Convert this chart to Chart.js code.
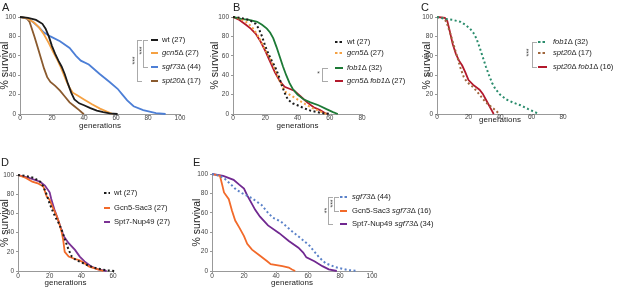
<!DOCTYPE html>
<html>
<head>
<meta charset="utf-8">
<script src="https://cdn.jsdelivr.net/npm/chart.js@4.4.1/dist/chart.umd.min.js"></script>
<style>
  body { margin: 0; background: #fff; }
  #fig { position: relative; width: 617px; height: 288px; overflow: hidden; font-family: "Liberation Sans", Arial, sans-serif; color: #222; }
  canvas { position: absolute; }
  .lbl { position: absolute; font-size: 7.6px; line-height: 10px; white-space: nowrap; }
  .letter { position: absolute; font-size: 11px; line-height: 11px; }
  .brk { position: absolute; border: 1px solid #aaa; border-right: none; box-sizing: border-box; }
  .star { position: absolute; font-size: 7px; line-height: 7px; transform: rotate(-90deg); color: #444; }
  svg { position: absolute; overflow: visible; }
</style>
</head>
<body>
<div id="fig"></div>
<script>
// survival curves: generations / % survival
var wtGen = [0, 5, 10, 14, 16, 18, 20, 22, 24, 26, 28, 30, 32, 34, 37, 40, 44, 48, 52, 56, 61];
var wtSurv = [100, 99, 97, 93, 88, 80, 70, 62, 55, 49, 41, 31, 22, 15, 11, 9, 6, 3.5, 2, 0.7, 0];

var gcn5Gen = [0, 5, 9, 12, 15, 18, 21, 23, 25, 27, 29, 31, 33, 36, 40, 45, 50, 55, 58];
var gcn5Surv = [100, 98, 94, 89, 82, 73, 63, 57, 50, 42, 34, 27, 22, 19, 15, 10, 5.5, 2, 0];

var sgf73Gen = [0, 5, 8, 12, 15, 19, 25, 31, 35, 38, 43, 50, 56, 61, 64, 67, 71, 77, 85, 91];
var sgf73Surv = [100, 98, 95, 89, 84, 80, 75, 68, 60, 55, 51, 41, 33, 26, 20, 14, 8, 4, 1, 0];

var spt20Gen = [0, 4, 6, 7, 9, 11, 13, 15, 17, 19, 22, 25, 28, 31, 34, 37, 39, 40];
var spt20Surv = [100, 99, 95, 90, 80, 69, 58, 47, 38, 33, 29, 24, 18, 12, 8, 4, 1, 0];

var fob1Gen = [0, 5, 10, 15, 18, 21, 23, 25, 27, 29, 31, 33, 35, 37, 40, 44, 48, 53, 58, 62, 65];
var fob1Surv = [100, 98, 97, 95, 92, 88, 84, 78, 69, 59, 49, 40, 32, 26, 20, 15, 12, 9, 5, 2, 0];

var gcn5fob1Gen = [0, 4, 8, 11, 14, 17, 20, 23, 26, 29, 32, 35, 38, 42, 46, 50, 54, 57, 59];
var gcn5fob1Surv = [100, 97, 92, 88, 83, 75, 65, 54, 43, 34, 28, 26, 24, 18, 12, 7, 4, 1, 0];

var spt20fob1Gen = [0, 5, 6.5, 8, 10, 12, 14, 16, 18, 20, 23, 27, 29, 31, 33, 35, 36];
var spt20fob1Surv = [100, 99, 96, 86, 72, 62, 55, 50, 43, 35, 30, 25, 21, 15, 9, 3, 0];

var sac3Gen = [0, 5, 9, 13, 16, 18, 20, 22, 24, 26, 27.5, 28.5, 29.5, 32, 36, 39, 42, 45, 49, 52, 54];
var sac3Surv = [100, 97, 93, 91, 88, 78, 74, 66, 59, 50, 41, 33, 20, 15, 12.5, 11, 8, 4.5, 2.5, 1, 0];

var nup49Gen = [0, 7, 14, 17, 20, 21, 23, 25, 27, 29, 32, 36, 39, 42, 46, 50, 53, 56];
var nup49Surv = [100, 97, 93, 89, 82, 75, 64, 55, 45, 36, 29, 22, 15, 10, 5, 2, 1, 0];

var sac3sgf73Gen = [0, 5, 6.5, 7.5, 10.5, 12.5, 14.5, 17, 20, 22, 25, 29, 34.5, 36.7, 44, 48, 50, 52];
var sac3sgf73Surv = [100, 98, 88, 81, 74, 62, 52, 45, 36, 28, 22, 17, 10, 7, 5, 3.5, 1.5, 0];

var nup49sgf73Gen = [0, 7, 13.5, 17, 20, 22, 24, 27, 30, 35, 42, 48, 54, 57, 59, 64, 69, 73, 78];
var nup49sgf73Surv = [100, 98, 94, 89, 85, 78, 72, 63, 56, 47, 39, 31, 24, 19, 14, 10, 5, 1.7, 0];

var survTicks = [0, 20, 40, 60, 80, 100];

var fig = document.getElementById('fig');

function line(gen, surv, color, dotted) {
  return {
    data: gen.map(function(g, i) { return {x: g, y: surv[i]}; }),
    borderColor: color,
    borderWidth: dotted ? 2 : 1.8,
    borderDash: dotted ? [2, 2.5] : [],
    pointRadius: 0,
    tension: 0,
    fill: false,
    clip: false
  };
}

// p: left, top, width, height of canvas, plot top, y-axis width, x-axis height
function panel(p, xMax, datasets) {
  var c = document.createElement('canvas');
  c.width = p.w; c.height = p.h;
  c.style.left = p.left + 'px'; c.style.top = p.top + 'px';
  c.style.width = p.w + 'px'; c.style.height = p.h + 'px';
  fig.appendChild(c);
  var tickFont = {family: '"Liberation Sans", Arial, sans-serif', size: 6.5};
  new Chart(c, {
    type: 'line',
    data: {datasets: datasets},
    options: {
      responsive: false,
      animation: false,
      devicePixelRatio: 1,
      layout: {padding: {top: p.padTop, right: 8, left: 0, bottom: 0}},
      plugins: {legend: {display: false}, tooltip: {enabled: false}},
      scales: {
        x: {
          type: 'linear', min: 0, max: xMax,
          ticks: {stepSize: 20, font: tickFont, color: '#444', padding: p.xPad, maxRotation: 0},
          grid: {drawOnChartArea: false, tickLength: 2, color: '#999'},
          border: {color: '#999'},
          title: {display: true, text: 'generations', color: '#222', padding: 0,
                  font: {family: '"Liberation Sans", Arial, sans-serif', size: 8, lineHeight: 1}},
          afterFit: function(s) { s.height = p.xH; }
        },
        y: {
          min: 0, max: 100,
          afterBuildTicks: function(s) { s.ticks = survTicks.map(function(v) { return {value: v}; }); },
          ticks: {font: tickFont, color: '#444', padding: 2},
          grid: {drawOnChartArea: false, tickLength: 2, color: '#999'},
          border: {color: '#999'},
          title: {display: true, text: '% survival', color: '#222', padding: 0,
                  font: {family: '"Liberation Sans", Arial, sans-serif', size: 10.5, lineHeight: 1}},
          afterFit: function(s) { s.width = p.yW; }
        }
      }
    }
  });
}

function legendRow(x1, x2, tx, y, color, dotted, html) {
  var s = document.createElementNS('http://www.w3.org/2000/svg', 'svg');
  s.setAttribute('width', x2 - x1); s.setAttribute('height', 4);
  s.style.left = x1 + 'px'; s.style.top = (y - 2) + 'px';
  var l = document.createElementNS('http://www.w3.org/2000/svg', 'line');
  l.setAttribute('x1', 0); l.setAttribute('x2', x2 - x1);
  l.setAttribute('y1', 2); l.setAttribute('y2', 2);
  l.setAttribute('stroke', color); l.setAttribute('stroke-width', 2);
  if (dotted) l.setAttribute('stroke-dasharray', '2.5 2');
  s.appendChild(l);
  fig.appendChild(s);
  var d = document.createElement('div');
  d.className = 'lbl';
  d.style.left = tx + 'px'; d.style.top = (y - 5) + 'px';
  d.innerHTML = html;
  fig.appendChild(d);
}

function bracket(x, y1, y2, w) {
  var b = document.createElement('div');
  b.className = 'brk';
  b.style.left = x + 'px'; b.style.top = y1 + 'px';
  b.style.width = w + 'px'; b.style.height = (y2 - y1 + 1) + 'px';
  fig.appendChild(b);
}

function stars(x, y, txt) {
  var d = document.createElement('div');
  d.className = 'star';
  d.textContent = txt;
  fig.appendChild(d);
  d.style.left = (x - d.offsetWidth / 2) + 'px';
  d.style.top = (y - d.offsetHeight / 2) + 'px';
}

function letter(x, y, t) {
  var d = document.createElement('div');
  d.className = 'letter';
  d.style.left = x + 'px'; d.style.top = y + 'px';
  d.textContent = t;
  fig.appendChild(d);
}

// A
panel({left: 0, top: 0, w: 188, h: 130, padTop: 17, yW: 20, xH: 16, xPad: -1.5}, 100, [
  line(wtGen, wtSurv, '#1b1b1b', false),
  line(gcn5Gen, gcn5Surv, '#f5a142', false),
  line(sgf73Gen, sgf73Surv, '#4d7fd6', false),
  line(spt20Gen, spt20Surv, '#8a5a2e', false)
]);
// B
panel({left: 210, top: 0, w: 160, h: 130, padTop: 17, yW: 23, xH: 16, xPad: -1.5}, 80, [
  line(wtGen, wtSurv, '#1b1b1b', true),
  line(gcn5Gen, gcn5Surv, '#f5a142', true),
  line(fob1Gen, fob1Surv, '#1d7a36', false),
  line(gcn5fob1Gen, gcn5fob1Surv, '#b3192c', false)
]);
// C
panel({left: 422, top: 0, w: 149, h: 124, padTop: 17, yW: 15, xH: 10, xPad: -2.5}, 80, [
  line(fob1Gen, fob1Surv, '#2a8c6c', true),
  line(spt20Gen, spt20Surv, '#a0663c', true),
  line(spt20fob1Gen, spt20fob1Surv, '#b3192c', false)
]);
// D
panel({left: 0, top: 140, w: 121, h: 147, padTop: 35, yW: 18, xH: 16, xPad: -1}, 60, [
  line(wtGen, wtSurv, '#1b1b1b', true),
  line(sac3Gen, sac3Surv, '#f26a2a', false),
  line(nup49Gen, nup49Surv, '#7b3294', false)
]);
// E
panel({left: 192, top: 140, w: 188, h: 147, padTop: 34, yW: 20, xH: 16, xPad: -1}, 100, [
  line(sgf73Gen, sgf73Surv, '#5b82c9', true),
  line(sac3sgf73Gen, sac3sgf73Surv, '#f26a2a', false),
  line(nup49sgf73Gen, nup49sgf73Surv, '#702890', false)
]);

letter(2, 2, 'A'); letter(233, 2, 'B'); letter(421, 2, 'C');
letter(1, 157, 'D'); letter(193, 157, 'E');

// legends
legendRow(151, 158, 162, 40, '#1b1b1b', false, 'wt (27)');
legendRow(151, 158, 162, 53, '#f5a142', false, '<i>gcn5</i>Δ (27)');
legendRow(151, 158, 162, 67, '#4d7fd6', false, '<i>sgf73</i>Δ (44)');
legendRow(151, 158, 162, 81, '#8a5a2e', false, '<i>spt20</i>Δ (17)');
bracket(137, 40, 81, 5);
bracket(143, 40, 67, 5);
stars(141, 50, '***');
stars(134, 60, '***');

legendRow(335, 343, 347, 42, '#1b1b1b', true, 'wt (27)');
legendRow(335, 343, 347, 53, '#f5a142', true, '<i>gcn5</i>Δ (27)');
legendRow(335, 343, 347, 68, '#1d7a36', false, '<i>fob1</i>Δ (32)');
legendRow(335, 343, 347, 81, '#b3192c', false, '<i>gcn5</i>Δ <i>fob1</i>Δ (27)');
bracket(322, 68, 81, 6);
stars(319, 72, '*');

legendRow(538, 547, 553, 42, '#2a8c6c', true, '<i>fob1</i>Δ (32)');
legendRow(538, 547, 553, 53, '#a0663c', true, '<i>spt20</i>Δ (17)');
legendRow(538, 547, 553, 67, '#b3192c', false, '<i>spt20</i>Δ <i>fob1</i>Δ (16)');
bracket(532, 42, 67, 5);
stars(528, 52, '***');

legendRow(104, 110, 114, 193, '#1b1b1b', true, 'wt (27)');
legendRow(104, 110, 114, 208, '#f26a2a', false, 'Gcn5-Sac3 (27)');
legendRow(104, 110, 114, 222, '#7b3294', false, 'Spt7-Nup49 (27)');

legendRow(340, 347, 352, 197, '#5b82c9', true, '<i>sgf73</i>Δ (44)');
legendRow(340, 347, 352, 211, '#f26a2a', false, 'Gcn5-Sac3 <i>sgf73</i>Δ (16)');
legendRow(340, 347, 352, 224, '#702890', false, 'Spt7-Nup49 <i>sgf73</i>Δ (34)');
bracket(334, 197, 211, 5);
bracket(328, 197, 224, 5);
stars(332, 203, '***');
stars(326, 210, '**');
</script>
</body>
</html>
